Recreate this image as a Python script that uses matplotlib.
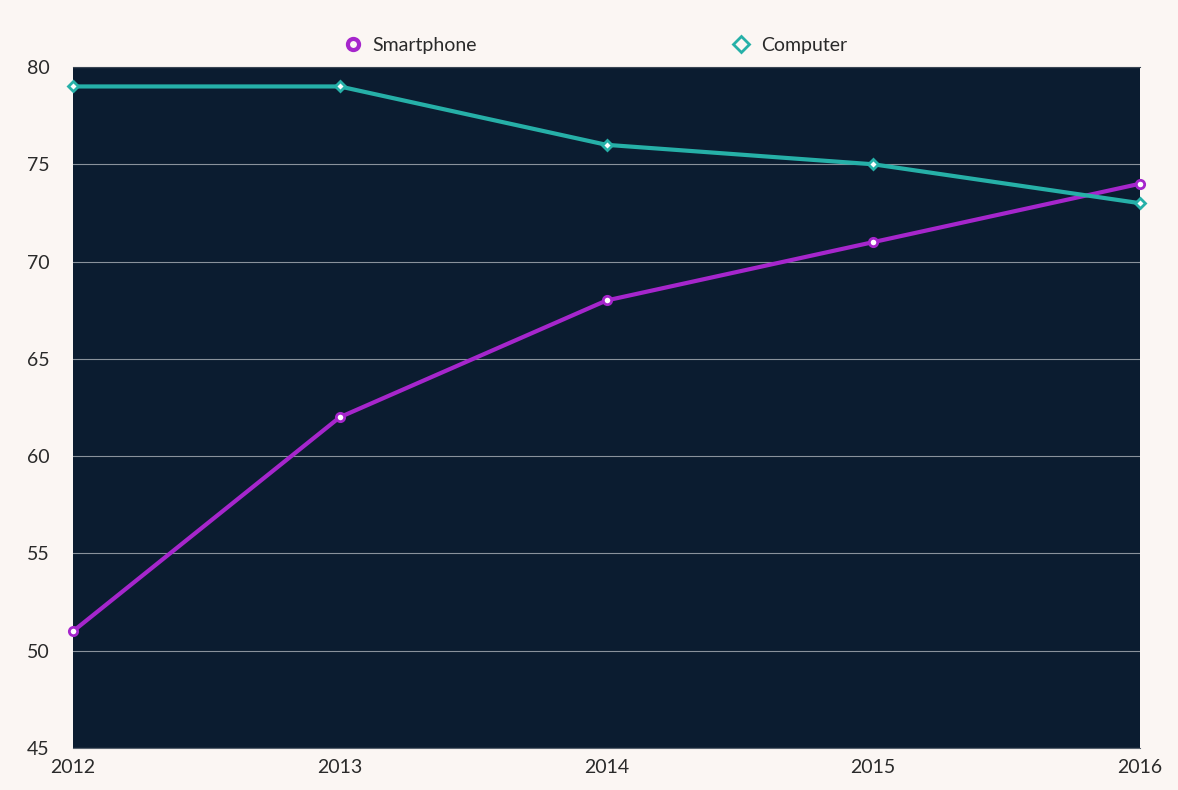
import matplotlib
matplotlib.use("Agg")
import matplotlib.pyplot as plt
from matplotlib.lines import Line2D

years = [2012, 2013, 2014, 2015, 2016]
smartphone = [51, 62, 68, 71, 74]
computer = [79, 79, 76, 75, 73]

bg = "#FBF6F3"
panel = "#0B1C30"
purple = "#A626CC"
teal = "#26B0A8"
textc = "#2A2A2A"

plt.rcParams["font.family"] = ["Lato", "DejaVu Sans"]

fig = plt.figure(figsize=(11.78, 7.90), dpi=100, facecolor=bg)
ax = fig.add_axes([73 / 1178, 1 - 748 / 790, (1140 - 73) / 1178, (748 - 67) / 790])
ax.set_facecolor(panel)

ax.plot(years, smartphone, color=purple, lw=3, marker="o", ms=6,
        mfc="white", mec=purple, mew=2, zorder=3, clip_on=False)
ax.plot(years, computer, color=teal, lw=3, marker="D", ms=5,
        mfc="white", mec=teal, mew=2, zorder=3, clip_on=False)

ax.set_xlim(2012, 2016)
ax.set_ylim(45, 80)
ax.set_xticks(years)
ax.set_yticks(range(45, 81, 5))
ax.grid(axis="y", color="#8A929C", lw=0.8)
ax.set_axisbelow(True)
for s in ["left", "right"]:
    ax.spines[s].set_visible(False)
ax.spines["top"].set_color("#3A4654")
ax.spines["bottom"].set_color("#5A6470")
ax.tick_params(length=0, labelsize=14, labelcolor=textc)
ax.tick_params(axis="y", pad=17)
ax.tick_params(axis="x", pad=8)

handles = [
    Line2D([0], [0], color="none", marker="o", ms=8, mfc=bg, mec=purple, mew=3, label="Smartphone"),
    Line2D([0], [0], color="none", marker="D", ms=8, mfc=bg, mec=teal, mew=2, label="Computer"),
]
leg = fig.legend(handles=handles, loc="center", bbox_to_anchor=(594 / 1178, 1 - 45 / 790),
                 ncol=2, frameon=False, fontsize=14, columnspacing=13,
                 handletextpad=0.4, handlelength=1.2)
for t in leg.get_texts():
    t.set_color(textc)

fig.savefig("out.png", dpi=100, facecolor=bg)
